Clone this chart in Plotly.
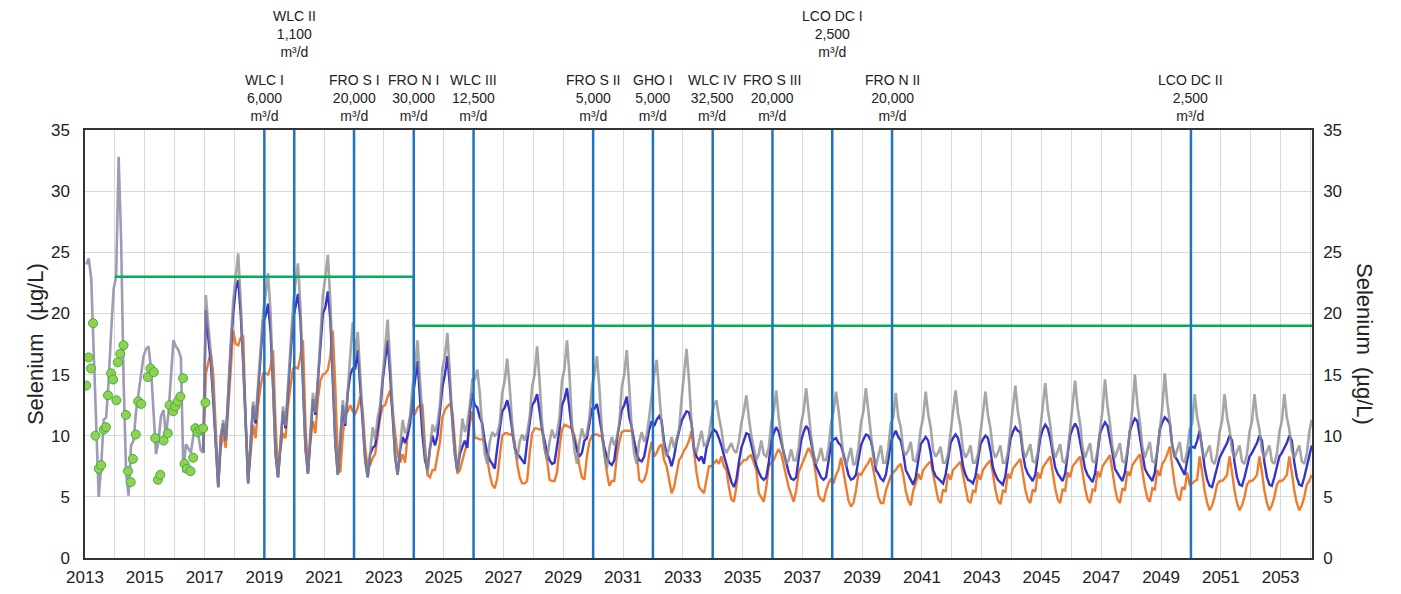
import plotly.graph_objects as go

# ---------------- data ----------------
HIST_START = 2013   # monthly record 2013-2016 (single line)
MAIN_START = 2017   # monthly projections start

HIST = [
    24.0, 24.5, 22.8, 16.8, 9.9, 5.0, 7.5, 11.3, 11.5, 14.5, 18.5, 22.0,
    23.0, 32.8, 26.0, 14.5, 7.0, 5.1, 9.2, 9.6, 12.0, 13.5, 14.8, 16.5,
    17.1, 17.3, 15.5, 12.0, 8.5, 9.5, 11.6, 12.1, 10.0, 11.8, 15.0, 17.8,
    17.3, 17.0, 16.4, 7.0, 9.3, 9.0, 8.6, 10.0, 11.0, 10.0, 8.8, 8.6,
]

GRAY = [
    21.5, 19.0, 16.8, 13.5, 9.5, 5.8, 9.9, 11.3, 9.6, 13.9, 17.5, 21.0,
    23.0, 24.9, 21.0, 16.4, 10.5, 6.1, 9.5, 12.8, 11.3, 14.0, 17.0, 20.0,
    21.5, 23.3, 20.0, 14.0, 8.5, 6.6, 9.5, 12.4, 10.8, 14.0, 17.5, 20.5,
    22.5, 24.1, 20.5, 14.5, 9.0, 6.9, 10.5, 13.5, 11.9, 14.5, 18.0, 21.5,
    23.0, 24.8, 21.0, 15.0, 9.5, 6.8, 10.0, 12.9, 11.0, 14.0, 16.5, 19.3,
    16.5, 18.5, 15.0, 11.5, 8.0, 6.6, 9.0, 10.7, 9.7, 11.5, 12.5, 15.0,
    17.0, 19.5, 16.0, 12.0, 8.5, 6.8, 9.0, 11.3, 10.2, 10.5, 11.6, 14.0,
    15.5, 17.8, 14.5, 11.0, 8.5, 6.9, 9.0, 10.9, 10.3, 11.0, 12.5, 15.5,
    16.5, 18.4, 15.0, 10.9, 8.5, 7.1, 9.0, 11.4, 10.3, 11.0, 12.5, 14.6,
    14.6, 15.4, 13.5, 10.5, 8.5, 7.7, 9.5, 10.3, 10.0, 10.2, 11.0, 13.5,
    14.5, 16.3, 14.0, 11.0, 9.0, 8.0, 9.5, 10.1, 9.6, 10.2, 11.5, 14.0,
    15.0, 17.3, 14.5, 11.0, 9.0, 8.0, 9.5, 10.5, 9.8, 10.2, 11.5, 14.5,
    15.5, 17.8, 15.0, 11.0, 8.8, 7.7, 9.5, 10.6, 9.8, 10.2, 11.5, 14.0,
    15.0, 16.5, 14.0, 10.5, 8.5, 7.3, 9.0, 9.9, 9.2, 9.8, 11.0, 14.0,
    15.0, 17.0, 14.0, 10.5, 8.5, 7.7, 9.5, 10.3, 9.5, 10.0, 11.5, 13.5,
    15.0, 16.2, 13.5, 11.0, 9.0, 8.3, 9.0, 9.9, 9.0, 9.7, 10.5, 13.0,
    15.0, 17.1, 14.5, 11.0, 9.0, 8.6, 9.5, 10.4, 9.2, 9.3, 10.0, 11.5,
    12.5, 12.9, 11.5, 10.5, 9.0, 8.6, 9.0, 9.4, 8.8, 8.6, 9.5, 11.0,
    12.0, 13.3, 11.5, 10.0, 9.0, 8.0, 8.5, 9.6, 8.5, 8.3, 9.0, 11.0,
    12.0, 13.7, 11.5, 10.0, 8.5, 7.7, 8.0, 8.9, 8.0, 8.0, 9.0, 11.0,
    12.0, 13.9, 11.8, 10.0, 8.5, 7.7, 8.2, 9.0, 8.0, 8.0, 9.0, 11.0,
    12.0, 13.6, 12.1, 10.0, 8.3, 7.5, 8.3, 9.0, 7.6, 7.8, 9.0, 11.0,
    12.0, 13.9, 12.0, 10.0, 8.3, 7.5, 8.3, 9.2, 7.8, 7.8, 9.0, 11.0,
    11.5, 13.5, 11.5, 10.7, 8.8, 8.4, 8.8, 9.5, 8.0, 7.9, 8.8, 10.5,
    11.5, 13.6, 11.8, 10.7, 8.8, 8.3, 8.6, 9.1, 7.8, 7.8, 8.5, 10.2,
    11.5, 13.7, 11.8, 10.7, 8.8, 8.2, 8.6, 9.2, 7.8, 7.8, 8.5, 10.2,
    11.5, 13.6, 11.7, 10.6, 8.8, 8.2, 8.6, 9.2, 7.8, 7.8, 8.6, 10.4,
    11.8, 14.1, 12.0, 10.8, 8.9, 8.2, 8.7, 9.3, 7.9, 7.8, 8.6, 10.5,
    12.0, 14.3, 12.2, 10.9, 9.0, 8.2, 8.7, 9.3, 7.9, 7.8, 8.6, 10.6,
    12.0, 14.5, 12.3, 11.0, 9.0, 8.2, 8.8, 9.4, 7.9, 7.8, 8.7, 10.6,
    12.1, 14.6, 12.4, 11.0, 9.0, 8.2, 8.8, 9.4, 7.9, 7.8, 8.7, 10.7,
    12.2, 15.0, 12.6, 11.1, 9.1, 8.2, 8.8, 9.5, 7.9, 7.8, 8.7, 10.8,
    12.3, 15.1, 12.7, 11.2, 9.1, 8.2, 8.9, 9.5, 8.0, 7.8, 8.8, 10.5,
    11.0, 13.4, 11.5, 10.5, 8.8, 8.2, 8.7, 9.2, 7.9, 7.7, 8.5, 10.3,
    11.2, 13.4, 11.5, 10.5, 8.8, 8.2, 8.7, 9.2, 7.9, 7.7, 8.5, 10.3,
    11.2, 13.4, 11.5, 10.5, 8.8, 8.2, 8.7, 9.2, 7.9, 7.7, 8.5, 10.3,
    11.2, 13.4, 11.5, 10.5, 8.8, 8.2, 8.7, 9.2, 7.9, 7.7, 8.5, 10.3,
    11.3,
]

BLUE = [
    20.3, 18.0, 16.0, 12.8, 9.0, 5.8, 9.9, 11.0, 9.6, 13.5, 17.0, 20.0,
    22.0, 22.7, 20.0, 16.0, 10.5, 6.1, 9.5, 12.5, 11.0, 13.5, 16.5, 19.3,
    19.8, 20.8, 18.5, 14.0, 8.5, 6.6, 9.3, 12.0, 10.6, 13.5, 17.0, 19.5,
    20.5, 21.6, 19.5, 14.0, 9.0, 6.9, 10.3, 13.0, 11.7, 14.3, 17.5, 20.0,
    20.5, 21.8, 19.5, 14.5, 9.3, 6.8, 9.8, 12.5, 10.8, 13.5, 15.0, 15.5,
    15.5, 17.0, 14.0, 11.0, 8.0, 6.6, 8.5, 9.0, 9.2, 10.5, 12.0, 14.5,
    16.0, 17.8, 15.0, 11.5, 8.3, 6.8, 8.8, 9.9, 9.4, 10.0, 11.0, 13.0,
    14.7, 16.1, 13.0, 10.0, 8.0, 7.2, 9.0, 10.0, 9.2, 10.0, 12.0, 14.0,
    15.0, 16.5, 14.0, 10.9, 8.5, 7.1, 8.5, 9.1, 9.6, 9.0, 12.0, 13.5,
    12.5, 12.3, 11.5, 11.0, 9.5, 8.6, 8.0, 7.7, 7.3, 9.0, 10.5, 12.0,
    12.3, 12.9, 12.0, 10.5, 9.0, 8.5, 8.3, 8.0, 7.7, 9.5, 11.0, 12.5,
    12.8, 13.4, 12.0, 10.5, 9.6, 8.6, 8.0, 7.7, 7.8, 9.0, 10.5, 12.5,
    13.0, 13.9, 12.4, 10.5, 9.6, 8.8, 8.3, 8.6, 9.6, 9.8, 11.0, 12.2,
    12.2, 12.6, 11.5, 10.4, 9.0, 8.3, 7.8, 7.6, 8.0, 9.6, 11.0, 12.1,
    12.5, 13.2, 11.5, 10.7, 9.5, 8.5, 8.0, 7.9, 8.3, 9.5, 10.5, 11.2,
    10.8, 11.3, 11.6, 11.2, 9.5, 8.5, 8.2, 7.5, 8.3, 9.5, 10.5, 11.2,
    11.6, 12.0, 11.9, 11.0, 9.0, 8.3, 8.0, 8.3, 7.7, 9.0, 9.7, 10.2,
    10.5, 10.3, 9.8, 9.2, 8.4, 7.6, 7.0, 6.2, 5.8, 6.4, 7.8, 9.0,
    9.6, 10.2, 10.1, 9.3, 8.3, 7.6, 7.0, 6.6, 6.4, 6.6, 7.8, 9.5,
    10.2, 10.7, 10.3, 9.5, 8.8, 7.8, 7.0, 6.5, 6.4, 6.6, 8.0, 9.6,
    10.3, 10.8, 10.5, 9.3, 8.4, 7.5, 7.0, 6.6, 6.4, 6.6, 7.9, 9.4,
    9.7, 9.8, 9.4, 9.2, 8.5, 7.5, 6.8, 6.4, 6.5, 6.8, 8.0, 9.2,
    9.7, 10.1, 10.0, 9.6, 8.6, 7.2, 6.9, 6.5, 6.3, 6.8, 8.0, 9.5,
    10.0, 10.4, 9.9, 9.6, 8.6, 7.2, 6.8, 6.4, 6.0, 6.6, 8.0, 9.3,
    9.6, 9.9, 9.6, 8.6, 7.2, 6.7, 6.5, 6.3, 6.1, 6.8, 8.0, 9.4,
    9.8, 10.1, 9.8, 8.9, 7.5, 6.8, 6.4, 6.3, 6.1, 6.7, 8.0, 9.3,
    9.7, 10.0, 9.8, 8.8, 7.4, 6.8, 6.4, 6.2, 6.0, 6.7, 8.2, 9.7,
    10.3, 10.7, 10.4, 10.3, 8.6, 7.4, 6.9, 6.6, 6.3, 6.8, 8.2, 9.8,
    10.5, 10.9, 10.6, 9.8, 8.6, 7.4, 6.9, 6.6, 6.3, 6.9, 8.4, 10.0,
    10.6, 11.0, 10.6, 9.6, 8.5, 7.3, 6.8, 6.5, 6.2, 6.9, 8.5, 10.2,
    10.7, 11.1, 10.8, 9.8, 8.6, 7.3, 6.9, 6.6, 6.3, 7.0, 8.6, 10.4,
    11.0, 11.4, 11.2, 10.0, 8.6, 7.3, 6.9, 6.6, 6.3, 7.0, 8.6, 10.5,
    11.1, 11.5, 11.3, 11.0, 9.2, 8.3, 8.0, 7.6, 7.3, 6.8, 8.0, 9.0,
    9.1, 9.0, 9.6, 10.4, 9.0, 7.4, 6.4, 5.9, 5.8, 6.5, 7.4, 8.2,
    8.6, 9.0, 9.4, 10.0, 9.6, 7.8, 6.6, 6.0, 5.9, 6.6, 7.5, 8.3,
    8.6, 9.0, 9.4, 10.0, 9.6, 7.8, 6.6, 6.0, 5.9, 6.6, 7.5, 8.3,
    8.6, 9.0, 9.4, 10.0, 9.6, 7.8, 6.6, 6.0, 5.9, 6.6, 7.5, 8.3,
    9.2,
]

ORANGE = [
    15.0, 16.0, 16.8, 15.0, 10.0, 6.0, 9.0, 10.2, 9.0, 12.5, 16.0, 18.6,
    17.5, 17.4, 18.0, 18.2, 11.5, 6.5, 8.5, 10.9, 9.8, 12.5, 14.0, 15.1,
    15.1, 15.0, 15.6, 17.0, 11.0, 6.8, 9.0, 10.2, 9.8, 12.5, 14.0, 15.5,
    15.6, 15.5, 16.5, 17.8, 11.0, 7.0, 9.5, 11.2, 10.2, 13.0, 14.5, 15.0,
    15.1, 15.4, 16.5, 18.6, 14.0, 8.0, 7.0, 10.0, 11.9, 12.0, 12.5, 12.0,
    11.8, 12.3, 13.2, 12.0, 9.0, 7.3, 7.6, 8.2, 8.5, 10.0, 11.5, 12.4,
    12.5, 13.2, 13.7, 12.0, 10.2, 8.5, 7.8, 8.5, 7.8, 10.0, 11.5, 12.0,
    11.8, 12.3, 12.5, 12.5, 9.1, 6.8, 6.6, 7.2, 7.2, 8.5, 9.5, 11.5,
    12.1, 12.4, 12.6, 12.0, 9.1, 6.9, 7.2, 8.0, 8.8, 9.5, 11.0, 12.0,
    9.8, 9.8, 9.7, 9.7, 9.5, 8.0, 6.8, 6.0, 5.7, 6.5, 8.5, 10.0,
    10.2, 10.2, 10.1, 10.1, 9.5, 7.7, 6.6, 6.1, 6.1, 6.3, 8.5, 10.2,
    10.6, 10.6, 10.5, 10.5, 9.0, 8.0, 6.4, 6.3, 6.3, 7.0, 9.0, 10.5,
    10.9, 10.8, 10.7, 10.6, 10.0, 9.1, 7.5, 6.6, 6.4, 8.3, 9.5, 10.0,
    10.1, 10.1, 10.0, 10.0, 8.6, 7.0, 5.9, 6.3, 6.3, 8.3, 9.5, 10.3,
    10.4, 10.4, 10.4, 10.4, 9.5, 8.6, 6.4, 6.2, 6.4, 7.0, 8.5, 9.5,
    8.3, 8.6, 9.1, 9.3, 8.0, 7.5, 6.4, 5.3, 5.8, 6.9, 8.0, 8.3,
    8.8, 9.1, 9.6, 10.4, 8.5, 7.0, 5.8, 5.5, 5.3, 6.4, 7.5, 7.5,
    7.8, 8.0, 7.7, 8.3, 7.5, 7.2, 5.8, 4.8, 4.6, 5.8, 7.5, 7.8,
    8.0, 8.0, 8.3, 8.4, 7.8, 7.2, 5.3, 4.9, 4.6, 5.8, 7.5, 7.8,
    8.0, 8.5, 8.9, 8.5, 7.5, 6.8, 5.8, 5.2, 4.6, 5.5, 7.0, 7.5,
    8.0, 8.4, 9.0, 8.6, 8.0, 6.7, 5.1, 4.8, 4.6, 5.5, 6.1, 6.5,
    6.1, 6.8, 7.2, 8.2, 7.0, 5.8, 4.7, 4.2, 4.5, 5.5, 6.9, 6.8,
    7.2, 7.5, 7.8, 8.2, 7.2, 6.0, 5.0, 4.5, 4.5, 5.5, 6.1, 6.7,
    7.0, 7.2, 7.5, 7.7, 6.8, 5.5, 4.7, 4.3, 5.5, 6.1, 6.9, 6.4,
    7.2, 7.5, 7.7, 7.9, 6.8, 5.6, 4.8, 4.5, 5.6, 5.4, 6.9, 6.4,
    7.2, 7.4, 7.7, 7.9, 6.8, 5.6, 4.7, 4.5, 5.5, 5.4, 6.9, 6.4,
    7.2, 7.5, 7.8, 8.0, 6.9, 5.6, 4.7, 4.4, 5.5, 5.4, 6.9, 6.5,
    7.3, 7.6, 7.9, 8.1, 6.9, 5.6, 4.8, 4.5, 5.6, 5.4, 7.0, 6.5,
    7.4, 7.7, 8.0, 8.3, 7.0, 5.7, 4.8, 4.5, 5.6, 5.5, 7.0, 6.6,
    7.5, 7.8, 8.1, 8.3, 7.0, 5.7, 4.8, 4.5, 5.6, 5.5, 7.1, 6.6,
    7.5, 7.8, 8.1, 8.4, 7.1, 5.7, 4.8, 4.5, 5.7, 5.5, 7.1, 6.7,
    7.6, 7.9, 8.2, 8.5, 7.1, 5.8, 4.9, 4.6, 5.7, 5.6, 7.2, 6.7,
    7.7, 8.0, 8.5, 9.1, 7.5, 6.0, 5.0, 4.7, 5.8, 5.6, 7.0, 6.0,
    6.1, 6.3, 6.4, 8.3, 7.0, 5.5, 4.5, 3.9, 4.3, 5.0, 6.0, 6.3,
    6.3, 6.5, 6.8, 8.3, 7.0, 5.5, 4.5, 3.9, 4.3, 5.0, 6.0, 6.3,
    6.3, 6.5, 6.8, 8.3, 7.0, 5.5, 4.5, 3.9, 4.3, 5.0, 6.0, 6.3,
    6.3, 6.5, 6.8, 8.3, 7.0, 5.5, 4.5, 3.9, 4.3, 5.0, 6.0, 6.3,
    6.8,
]

# observed samples (decimal year, value)
OBS_T = [2013.04, 2013.12, 2013.20, 2013.27, 2013.35, 2013.46, 2013.54, 2013.63, 2013.70,
         2013.77, 2013.87, 2013.94, 2014.05, 2014.10, 2014.18, 2014.29, 2014.37, 2014.44,
         2014.53, 2014.60, 2014.70, 2014.78, 2014.88, 2015.10, 2015.19, 2015.30, 2015.35,
         2015.44, 2015.52, 2015.63, 2015.77, 2015.83, 2015.95, 2016.02, 2016.10, 2016.19,
         2016.28, 2016.33, 2016.41, 2016.53, 2016.62, 2016.69, 2016.77, 2016.86, 2016.95,
         2017.03]
OBS_V = [14.1, 16.4, 15.5, 19.2, 10.0, 7.3, 7.6, 10.5, 10.7,
         13.3, 15.1, 14.6, 12.9, 16.0, 16.7, 17.4, 11.7, 7.1,
         6.2, 8.1, 10.1, 12.8, 12.6, 14.8, 15.5, 15.2, 9.8,
         6.4, 6.8, 9.6, 10.2, 12.5, 12.0, 12.4, 12.8, 13.2,
         14.7, 7.7, 7.3, 7.1, 8.2, 10.6, 10.3, 10.5, 10.6,
         12.7]

LIMIT_X = [2014.0, 2024.0, 2024.0, 2054.05]
LIMIT_V = [23, 23, 19, 19]

EVENT_YEARS = [2019, 2020, 2022, 2024, 2026, 2030, 2032, 2034, 2036, 2038, 2040, 2050]
EVENT_NAMES = ["WLC I", "WLC II", "FRO S I", "FRO N I", "WLC III", "FRO S II", "GHO I",
               "WLC IV", "FRO S III", "LCO DC I", "FRO N II", "LCO DC II"]
EVENT_RATES = ["6,000", "1,100", "20,000", "30,000", "12,500", "5,000", "5,000",
               "32,500", "20,000", "2,500", "20,000", "2,500"]
EVENT_UPPER = [False, True, False, False, False, False, False, False, False, True, False, False]

X_TICKS = list(range(2013, 2054, 2))
Y_TICKS = [0, 5, 10, 15, 20, 25, 30, 35]

# ---------------- figure ----------------
def month_axis(start, n):
    return [start + (i + 0.5) / 12 for i in range(n)]

hist_x = month_axis(HIST_START, len(HIST))

def joined(series):
    # projections continue from the last point of the historical line
    return [hist_x[-1]] + month_axis(MAIN_START, len(series)), [HIST[-1]] + series

FONT = "Liberation Sans, Arial, sans-serif"
fig = go.Figure()

ox, oy = joined(ORANGE)
bx, by = joined(BLUE)
gx, gy = joined(GRAY)
fig.add_trace(go.Scatter(x=ox, y=oy, mode="lines",
                         line=dict(color="#ED7D31", width=2.4), showlegend=False))
fig.add_trace(go.Scatter(x=bx, y=by, mode="lines",
                         line=dict(color="#3434CC", width=2.4), showlegend=False))
fig.add_trace(go.Scatter(x=hist_x, y=HIST, mode="lines",
                         line=dict(color="#9E9BB4", width=2.6), showlegend=False))
fig.add_trace(go.Scatter(x=gx, y=gy, mode="lines",
                         line=dict(color="#8E8E8E", width=2.6), opacity=0.78, showlegend=False))
fig.add_trace(go.Scatter(x=LIMIT_X, y=LIMIT_V, mode="lines",
                         line=dict(color="#00B050", width=2.5), showlegend=False))
fig.add_trace(go.Scatter(x=OBS_T, y=OBS_V, mode="markers",
                         marker=dict(size=9, color="#92D050", line=dict(color="#3CB043", width=1)),
                         showlegend=False))
fig.add_trace(go.Scatter(x=[2013], y=[0], yaxis="y2", mode="markers",
                         marker=dict(opacity=0), showlegend=False, hoverinfo="skip"))

for yr, name, rate, upper in zip(EVENT_YEARS, EVENT_NAMES, EVENT_RATES, EVENT_UPPER):
    fig.add_shape(type="line", xref="x", yref="y", x0=yr, x1=yr, y0=0, y1=35,
                  line=dict(color="#1F72C4", width=2.5))
    fig.add_annotation(x=yr, xref="x", y=1.159 if upper else 1.0097, yref="paper",
                       yanchor="bottom", xanchor="center", showarrow=False,
                       text=f"{name}<br>{rate}<br>m³/d",
                       font=dict(family=FONT, size=14, color="#222"))

fig.add_annotation(x=-0.0407, xref="paper", y=0.5, yref="paper", textangle=-90,
                   xanchor="center", yanchor="middle",
                   text="Selenium  (µg/L)", showarrow=False,
                   font=dict(family=FONT, size=22, color="#222"))
fig.add_annotation(x=1.0432, xref="paper", y=0.5, yref="paper", textangle=90,
                   xanchor="center", yanchor="middle",
                   text="Selenium  (µg/L)", showarrow=False,
                   font=dict(family=FONT, size=22, color="#222"))

axis_common = dict(showline=True, linecolor="#333", linewidth=1.5,
                   tickfont=dict(family=FONT, size=17, color="#222"), ticks="")
fig.update_layout(
    width=1401, height=594,
    margin=dict(l=85, r=89, t=130, b=36),
    paper_bgcolor="white", plot_bgcolor="white",
    xaxis=dict(range=[2013, 2054.05], tickvals=X_TICKS, showgrid=True, gridcolor="#D9D9D9",
               gridwidth=1, minor=dict(dtick=1, tick0=2013, showgrid=True, gridcolor="#D9D9D9"),
               mirror=True, zeroline=False, ticklabelstandoff=3, automargin=False, **axis_common),
    yaxis=dict(range=[0, 35], tickvals=Y_TICKS, showgrid=True, gridcolor="#D9D9D9",
               zeroline=False, mirror=True, ticklabelstandoff=10, automargin=False, **axis_common),
    yaxis2=dict(range=[0, 35], tickvals=Y_TICKS, overlaying="y", side="right",
                showgrid=False, zeroline=False, ticklabelstandoff=6, automargin=False,
                **axis_common),
)

# remove the browser's default 8px page margin so the figure fills the window exactly
fig.write_html("out.html", config={"displayModeBar": False},
               post_script="document.body.style.margin='0';document.body.style.overflow='hidden';")
